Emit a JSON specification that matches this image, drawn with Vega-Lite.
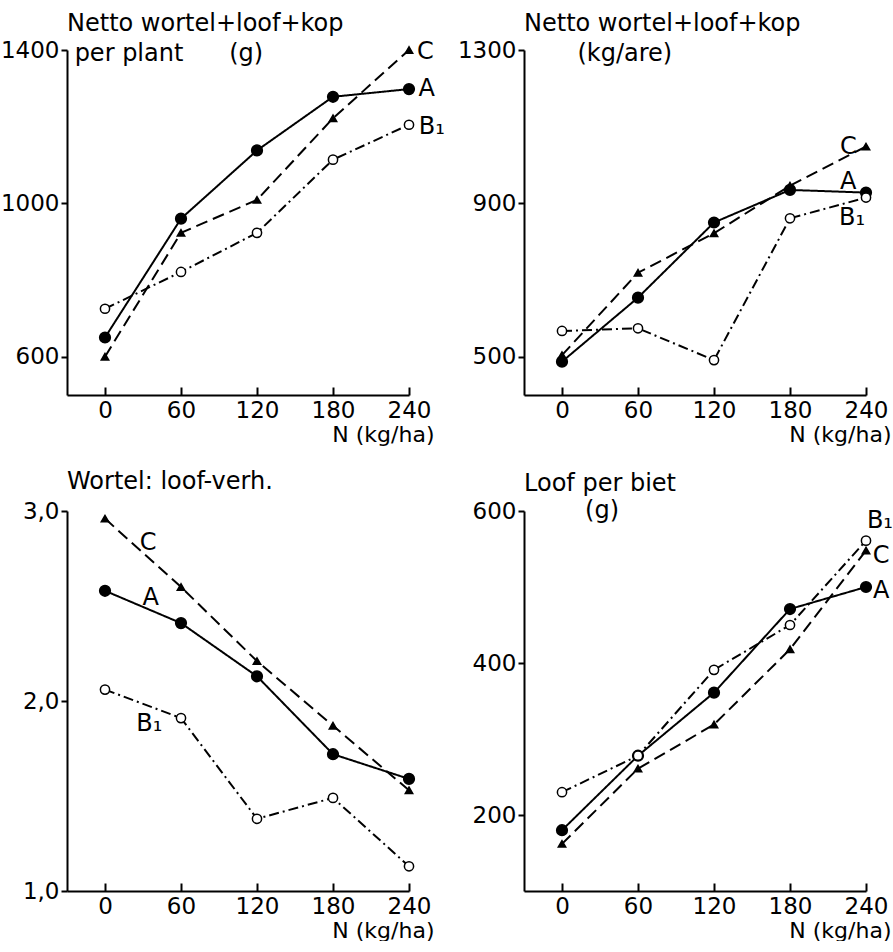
{
  "$schema": "https://vega.github.io/schema/vega-lite/v6.json",
  "background": "white",
  "padding": {"left": 0, "top": 12, "right": 0, "bottom": 0},
  "bounds": "flush",
  "columns": 2,
  "spacing": {"row": 116, "column": 115},
  "datasets": {
    "pts": [
      {"panel": "p1", "series": "A", "N": 0, "value": 650},
      {"panel": "p1", "series": "A", "N": 60, "value": 960},
      {"panel": "p1", "series": "A", "N": 120, "value": 1138},
      {"panel": "p1", "series": "A", "N": 180, "value": 1278},
      {"panel": "p1", "series": "A", "N": 240, "value": 1298},
      {"panel": "p1", "series": "C", "N": 0, "value": 600},
      {"panel": "p1", "series": "C", "N": 60, "value": 923},
      {"panel": "p1", "series": "C", "N": 120, "value": 1009},
      {"panel": "p1", "series": "C", "N": 180, "value": 1222},
      {"panel": "p1", "series": "C", "N": 240, "value": 1400},
      {"panel": "p1", "series": "B1", "N": 0, "value": 725},
      {"panel": "p1", "series": "B1", "N": 60, "value": 821},
      {"panel": "p1", "series": "B1", "N": 120, "value": 923},
      {"panel": "p1", "series": "B1", "N": 180, "value": 1114},
      {"panel": "p1", "series": "B1", "N": 240, "value": 1205},
      {"panel": "p2", "series": "A", "N": 0, "value": 487},
      {"panel": "p2", "series": "A", "N": 60, "value": 654},
      {"panel": "p2", "series": "A", "N": 120, "value": 850},
      {"panel": "p2", "series": "A", "N": 180, "value": 935},
      {"panel": "p2", "series": "A", "N": 240, "value": 928},
      {"panel": "p2", "series": "C", "N": 0, "value": 504},
      {"panel": "p2", "series": "C", "N": 60, "value": 719},
      {"panel": "p2", "series": "C", "N": 120, "value": 822},
      {"panel": "p2", "series": "C", "N": 180, "value": 946},
      {"panel": "p2", "series": "C", "N": 240, "value": 1048},
      {"panel": "p2", "series": "B1", "N": 0, "value": 567},
      {"panel": "p2", "series": "B1", "N": 60, "value": 574},
      {"panel": "p2", "series": "B1", "N": 120, "value": 491},
      {"panel": "p2", "series": "B1", "N": 180, "value": 861},
      {"panel": "p2", "series": "B1", "N": 240, "value": 915},
      {"panel": "p3", "series": "A", "N": 0, "value": 2.58},
      {"panel": "p3", "series": "A", "N": 60, "value": 2.41},
      {"panel": "p3", "series": "A", "N": 120, "value": 2.13},
      {"panel": "p3", "series": "A", "N": 180, "value": 1.72},
      {"panel": "p3", "series": "A", "N": 240, "value": 1.59},
      {"panel": "p3", "series": "C", "N": 0, "value": 2.96},
      {"panel": "p3", "series": "C", "N": 60, "value": 2.6},
      {"panel": "p3", "series": "C", "N": 120, "value": 2.21},
      {"panel": "p3", "series": "C", "N": 180, "value": 1.87},
      {"panel": "p3", "series": "C", "N": 240, "value": 1.53},
      {"panel": "p3", "series": "B1", "N": 0, "value": 2.06},
      {"panel": "p3", "series": "B1", "N": 60, "value": 1.91},
      {"panel": "p3", "series": "B1", "N": 120, "value": 1.38},
      {"panel": "p3", "series": "B1", "N": 180, "value": 1.49},
      {"panel": "p3", "series": "B1", "N": 240, "value": 1.13},
      {"panel": "p4", "series": "A", "N": 0, "value": 180},
      {"panel": "p4", "series": "A", "N": 60, "value": 278},
      {"panel": "p4", "series": "A", "N": 120, "value": 361},
      {"panel": "p4", "series": "A", "N": 180, "value": 471},
      {"panel": "p4", "series": "A", "N": 240, "value": 500},
      {"panel": "p4", "series": "C", "N": 0, "value": 162},
      {"panel": "p4", "series": "C", "N": 60, "value": 261},
      {"panel": "p4", "series": "C", "N": 120, "value": 319},
      {"panel": "p4", "series": "C", "N": 180, "value": 418},
      {"panel": "p4", "series": "C", "N": 240, "value": 548},
      {"panel": "p4", "series": "B1", "N": 0, "value": 230},
      {"panel": "p4", "series": "B1", "N": 60, "value": 278},
      {"panel": "p4", "series": "B1", "N": 120, "value": 391},
      {"panel": "p4", "series": "B1", "N": 180, "value": 450},
      {"panel": "p4", "series": "B1", "N": 240, "value": 561}
    ],
    "labels": [
      {"panel": "p1", "label": "C", "N": 253, "value": 1396},
      {"panel": "p1", "label": "A", "N": 254, "value": 1299},
      {"panel": "p1", "label": "B₁", "N": 258, "value": 1198},
      {"panel": "p2", "label": "C", "N": 226, "value": 1048},
      {"panel": "p2", "label": "A", "N": 226, "value": 955},
      {"panel": "p2", "label": "B₁", "N": 229, "value": 861},
      {"panel": "p3", "label": "C", "N": 34, "value": 2.83},
      {"panel": "p3", "label": "A", "N": 36, "value": 2.54},
      {"panel": "p3", "label": "B₁", "N": 35, "value": 1.88},
      {"panel": "p4", "label": "B₁", "N": 251, "value": 587},
      {"panel": "p4", "label": "C", "N": 252, "value": 541},
      {"panel": "p4", "label": "A", "N": 252, "value": 495}
    ]
  },
  "concat": [
    {
      "width": 342, "height": 345,
      "title": {"text": ["Netto wortel+loof+kop", "\u200b\u00a0per plant\u00a0\u00a0\u00a0\u00a0\u00a0\u00a0(g)"], "offset": -27},
      "data": {"name": "pts"},
      "transform": [{"filter": "datum.panel === 'p1'"}],
      "encoding": {
        "x": {"field": "N", "type": "quantitative", "scale": {"domain": [-30, 240], "nice": false, "zero": false},
          "axis": {"values": [0, 60, 120, 180, 240], "title": "N (kg/ha)", "titleX": 367, "titleAlign": "right", "tickSize": -8, "labelPadding": 12, "titlePadding": 2}},
        "y": {"field": "value", "type": "quantitative", "scale": {"domain": [500, 1400], "nice": false, "zero": false},
          "axis": {"values": [600, 1000, 1400], "format": "d", "title": null, "tickSize": 6, "labelPadding": 2}}
      },
      "layer": [
        {"mark": {"type": "line", "stroke": "black", "strokeWidth": 2},
         "encoding": {"detail": {"field": "series"}, "strokeDash": {"field": "series", "type": "nominal", "scale": {"domain": ["A", "B1", "C"], "range": [[1, 0], [10, 4, 2, 4], [12, 6]]}, "legend": null}}},
        {"mark": {"type": "point", "filled": true, "stroke": "black", "strokeWidth": 1.5, "opacity": 1},
         "encoding": {
           "shape": {"field": "series", "type": "nominal", "scale": {"domain": ["A", "B1", "C"], "range": ["circle", "circle", "triangle-up"]}, "legend": null},
           "fill": {"field": "series", "type": "nominal", "scale": {"domain": ["A", "B1", "C"], "range": ["black", "white", "black"]}, "legend": null},
           "size": {"field": "series", "type": "nominal", "scale": {"domain": ["A", "B1", "C"], "range": [115, 55, 150]}, "legend": null}}},
        {"data": {"name": "labels"}, "transform": [{"filter": "datum.panel === 'p1'"}],
         "mark": {"type": "text", "fontSize": 24, "color": "black", "align": "center", "baseline": "middle"},
         "encoding": {"text": {"field": "label"}}}
      ]
    },
    {
      "width": 342, "height": 345,
      "title": {"text": ["Netto wortel+loof+kop", "\u200b\u00a0\u00a0\u00a0\u00a0\u00a0\u00a0\u00a0(kg/are)"], "offset": -27},
      "data": {"name": "pts"},
      "transform": [{"filter": "datum.panel === 'p2'"}],
      "encoding": {
        "x": {"field": "N", "type": "quantitative", "scale": {"domain": [-30, 240], "nice": false, "zero": false},
          "axis": {"values": [0, 60, 120, 180, 240], "title": "N (kg/ha)", "titleX": 367, "titleAlign": "right", "tickSize": -8, "labelPadding": 12, "titlePadding": 2}},
        "y": {"field": "value", "type": "quantitative", "scale": {"domain": [400, 1300], "nice": false, "zero": false},
          "axis": {"values": [500, 900, 1300], "format": "d", "title": null, "tickSize": 6, "labelPadding": 2}}
      },
      "layer": [
        {"mark": {"type": "line", "stroke": "black", "strokeWidth": 2},
         "encoding": {"detail": {"field": "series"}, "strokeDash": {"field": "series", "type": "nominal", "scale": {"domain": ["A", "B1", "C"], "range": [[1, 0], [10, 4, 2, 4], [12, 6]]}, "legend": null}}},
        {"mark": {"type": "point", "filled": true, "stroke": "black", "strokeWidth": 1.5, "opacity": 1},
         "encoding": {
           "shape": {"field": "series", "type": "nominal", "scale": {"domain": ["A", "B1", "C"], "range": ["circle", "circle", "triangle-up"]}, "legend": null},
           "fill": {"field": "series", "type": "nominal", "scale": {"domain": ["A", "B1", "C"], "range": ["black", "white", "black"]}, "legend": null},
           "size": {"field": "series", "type": "nominal", "scale": {"domain": ["A", "B1", "C"], "range": [115, 55, 150]}, "legend": null}}},
        {"data": {"name": "labels"}, "transform": [{"filter": "datum.panel === 'p2'"}],
         "mark": {"type": "text", "fontSize": 24, "color": "black", "align": "center", "baseline": "middle"},
         "encoding": {"text": {"field": "label"}}}
      ]
    },
    {
      "width": 342, "height": 380,
      "title": {"text": "Wortel: loof-verh.", "offset": 6},
      "data": {"name": "pts"},
      "transform": [{"filter": "datum.panel === 'p3'"}],
      "encoding": {
        "x": {"field": "N", "type": "quantitative", "scale": {"domain": [-30, 240], "nice": false, "zero": false},
          "axis": {"values": [0, 60, 120, 180, 240], "title": "N (kg/ha)", "titleX": 367, "titleAlign": "right", "tickSize": -8, "labelPadding": 12, "titlePadding": 2}},
        "y": {"field": "value", "type": "quantitative", "scale": {"domain": [1, 3], "nice": false, "zero": false},
          "axis": {"values": [1, 2, 3], "labelExpr": "replace(format(datum.value, '.1f'), '.', ',')", "title": null, "tickSize": 6, "labelPadding": 2}}
      },
      "layer": [
        {"mark": {"type": "line", "stroke": "black", "strokeWidth": 2},
         "encoding": {"detail": {"field": "series"}, "strokeDash": {"field": "series", "type": "nominal", "scale": {"domain": ["A", "B1", "C"], "range": [[1, 0], [10, 4, 2, 4], [12, 6]]}, "legend": null}}},
        {"mark": {"type": "point", "filled": true, "stroke": "black", "strokeWidth": 1.5, "opacity": 1},
         "encoding": {
           "shape": {"field": "series", "type": "nominal", "scale": {"domain": ["A", "B1", "C"], "range": ["circle", "circle", "triangle-up"]}, "legend": null},
           "fill": {"field": "series", "type": "nominal", "scale": {"domain": ["A", "B1", "C"], "range": ["black", "white", "black"]}, "legend": null},
           "size": {"field": "series", "type": "nominal", "scale": {"domain": ["A", "B1", "C"], "range": [115, 55, 150]}, "legend": null}}},
        {"data": {"name": "labels"}, "transform": [{"filter": "datum.panel === 'p3'"}],
         "mark": {"type": "text", "fontSize": 24, "color": "black", "align": "center", "baseline": "middle"},
         "encoding": {"text": {"field": "label"}}}
      ]
    },
    {
      "width": 342, "height": 380,
      "title": {"text": ["Loof per biet", "\u200b\u00a0\u00a0\u00a0\u00a0\u00a0\u00a0\u00a0\u00a0(g)"], "offset": -23, "lineHeight": 27},
      "data": {"name": "pts"},
      "transform": [{"filter": "datum.panel === 'p4'"}],
      "encoding": {
        "x": {"field": "N", "type": "quantitative", "scale": {"domain": [-30, 240], "nice": false, "zero": false},
          "axis": {"values": [0, 60, 120, 180, 240], "title": "N (kg/ha)", "titleX": 367, "titleAlign": "right", "tickSize": -8, "labelPadding": 12, "titlePadding": 2}},
        "y": {"field": "value", "type": "quantitative", "scale": {"domain": [100, 600], "nice": false, "zero": false},
          "axis": {"values": [200, 400, 600], "format": "d", "title": null, "tickSize": 6, "labelPadding": 2}}
      },
      "layer": [
        {"mark": {"type": "line", "stroke": "black", "strokeWidth": 2},
         "encoding": {"detail": {"field": "series"}, "strokeDash": {"field": "series", "type": "nominal", "scale": {"domain": ["A", "B1", "C"], "range": [[1, 0], [10, 4, 2, 4], [12, 6]]}, "legend": null}}},
        {"mark": {"type": "point", "filled": true, "stroke": "black", "strokeWidth": 1.5, "opacity": 1},
         "encoding": {
           "shape": {"field": "series", "type": "nominal", "scale": {"domain": ["A", "B1", "C"], "range": ["circle", "circle", "triangle-up"]}, "legend": null},
           "fill": {"field": "series", "type": "nominal", "scale": {"domain": ["A", "B1", "C"], "range": ["black", "white", "black"]}, "legend": null},
           "size": {"field": "series", "type": "nominal", "scale": {"domain": ["A", "B1", "C"], "range": [115, 55, 150]}, "legend": null}}},
        {"data": {"name": "labels"}, "transform": [{"filter": "datum.panel === 'p4'"}],
         "mark": {"type": "text", "fontSize": 24, "color": "black", "align": "center", "baseline": "middle"},
         "encoding": {"text": {"field": "label"}}}
      ]
    }
  ],
  "resolve": {"scale": {"x": "independent", "y": "independent", "strokeDash": "shared", "shape": "shared", "fill": "shared", "size": "shared"}},
  "config": {
    "font": "DejaVu Sans",
    "view": {"stroke": null},
    "axis": {"grid": false, "domainColor": "black", "domainWidth": 2, "tickColor": "black", "tickWidth": 2, "labelFont": "DejaVu Sans", "labelFontSize": 23, "labelColor": "black", "titleFont": "DejaVu Sans", "titleFontSize": 22, "titleFontWeight": "normal", "titleColor": "black", "labelFlush": false, "labelOverlap": false},
    "title": {"font": "DejaVu Sans", "fontSize": 24, "fontWeight": "normal", "anchor": "start", "color": "black", "lineHeight": 30, "baseline": "bottom", "frame": "group"}
  }
}
